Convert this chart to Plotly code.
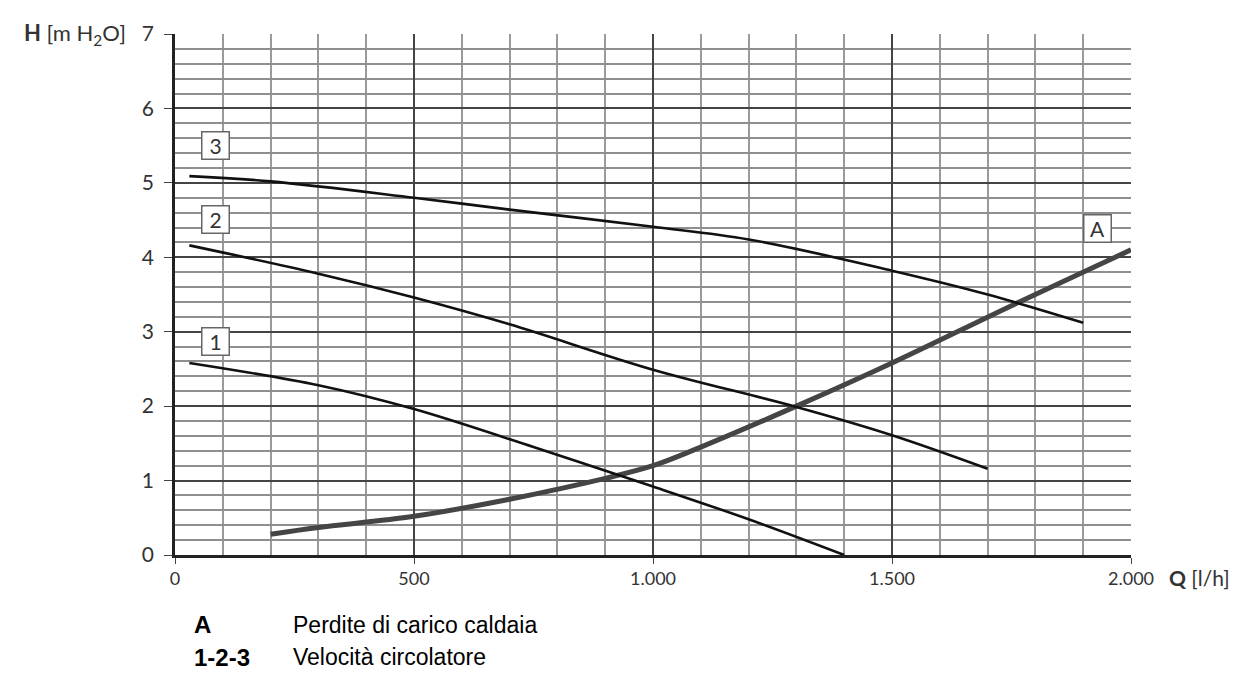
import plotly.graph_objects as go

# Pump curves (Q [l/h], H [m H2O])
q3 = [30, 200, 500, 700, 1000, 1200, 1500, 1700, 1900]
h3 = [5.09, 5.02, 4.80, 4.64, 4.41, 4.24, 3.82, 3.50, 3.12]
q2 = [30, 300, 500, 700, 1000, 1300, 1500, 1700]
h2 = [4.16, 3.78, 3.46, 3.10, 2.49, 1.99, 1.61, 1.16]
q1 = [30, 300, 500, 750, 1000, 1200, 1400]
h1 = [2.58, 2.28, 1.96, 1.45, 0.92, 0.48, 0.0]
qa = [200, 300, 500, 700, 900, 1000, 1100, 1300, 1500, 1750, 2000]
ha = [0.28, 0.37, 0.52, 0.75, 1.03, 1.20, 1.45, 2.00, 2.58, 3.35, 4.10]

x_tickvals = [0, 500, 1000, 1500, 2000]
x_ticktext = ["0", "500", "1.000", "1.500", "2.000"]
y_tickvals = [0, 1, 2, 3, 4, 5, 6, 7]

labels = ["3", "2", "1", "A"]
label_q = [85, 85, 85, 1930]
label_h = [5.50, 4.51, 2.87, 4.39]

fig = go.Figure()
fig.add_trace(go.Scatter(x=qa, y=ha, mode="lines", line=dict(color="#454545", width=5, shape="spline"), hoverinfo="skip"))
for qq, hh in [(q3, h3), (q2, h2), (q1, h1)]:
    fig.add_trace(go.Scatter(x=qq, y=hh, mode="lines", line=dict(color="#111111", width=2.6, shape="spline"), hoverinfo="skip"))

for t, lq, lh in zip(labels, label_q, label_h):
    fig.add_annotation(x=lq, y=lh, text=t, showarrow=False, width=24, height=24,
                       font=dict(family="Lato, Open Sans", size=21, color="#333333"),
                       bgcolor="white", bordercolor="#666666", borderwidth=1.5, borderpad=1)

fig.add_annotation(xref="paper", yref="paper", x=-0.049, y=1.0, xanchor="right", yanchor="middle",
                   text="<b>H</b> [m H<sub>2</sub>O]", showarrow=False,
                   font=dict(family="Lato, Open Sans", size=22, color="#333333"))
fig.add_annotation(xref="paper", yref="paper", x=1.038, y=-0.043, xanchor="left", yanchor="middle",
                   text="<b>Q</b> [l/h]", showarrow=False,
                   font=dict(family="Lato, Open Sans", size=21, color="#333333"))

fig.add_annotation(xref="paper", yref="paper", x=0.018, y=-0.134, xanchor="left", yanchor="middle",
                   text="<b>A</b>", showarrow=False,
                   font=dict(family="Liberation Sans, Arial", size=24, color="black"))
fig.add_annotation(xref="paper", yref="paper", x=0.1215, y=-0.134, xanchor="left", yanchor="middle",
                   text="Perdite di carico caldaia", showarrow=False,
                   font=dict(family="Liberation Sans, Arial", size=23, color="black"))
fig.add_annotation(xref="paper", yref="paper", x=0.018, y=-0.196, xanchor="left", yanchor="middle",
                   text="<b>1-2-3</b>", showarrow=False,
                   font=dict(family="Liberation Sans, Arial", size=24, color="black"))
fig.add_annotation(xref="paper", yref="paper", x=0.1215, y=-0.196, xanchor="left", yanchor="middle",
                   text="Velocità circolatore", showarrow=False,
                   font=dict(family="Liberation Sans, Arial", size=23, color="black"))

fig.update_layout(
    width=1240, height=665,
    margin=dict(l=167, r=117, t=16, b=118),
    paper_bgcolor="white", plot_bgcolor="white",
    showlegend=False,
    xaxis=dict(range=[0, 2000], tickvals=x_tickvals, ticktext=x_ticktext,
               showgrid=True, gridcolor="#444444", gridwidth=1.5,
               minor=dict(dtick=100, showgrid=True, gridcolor="#9a9a9a", gridwidth=1.5),
               ticks="outside", ticklen=6, tickcolor="#444444",
               showline=True, linecolor="#222222", linewidth=2.5, zeroline=False,
               tickfont=dict(family="Lato, Open Sans", size=18, color="#333333"),
               fixedrange=True),
    yaxis=dict(range=[0, 7], tickvals=y_tickvals,
               showgrid=True, gridcolor="#444444", gridwidth=1.5,
               minor=dict(dtick=0.2, showgrid=True, gridcolor="#8f8f8f", gridwidth=1.5),
               ticks="outside", ticklen=8, tickcolor="#444444",
               showline=True, linecolor="#222222", linewidth=2.5, zeroline=False,
               tickfont=dict(family="Lato, Open Sans", size=21, color="#333333"),
               ticklabelstandoff=6,
               fixedrange=True),
)
fig.write_html("out.html")
